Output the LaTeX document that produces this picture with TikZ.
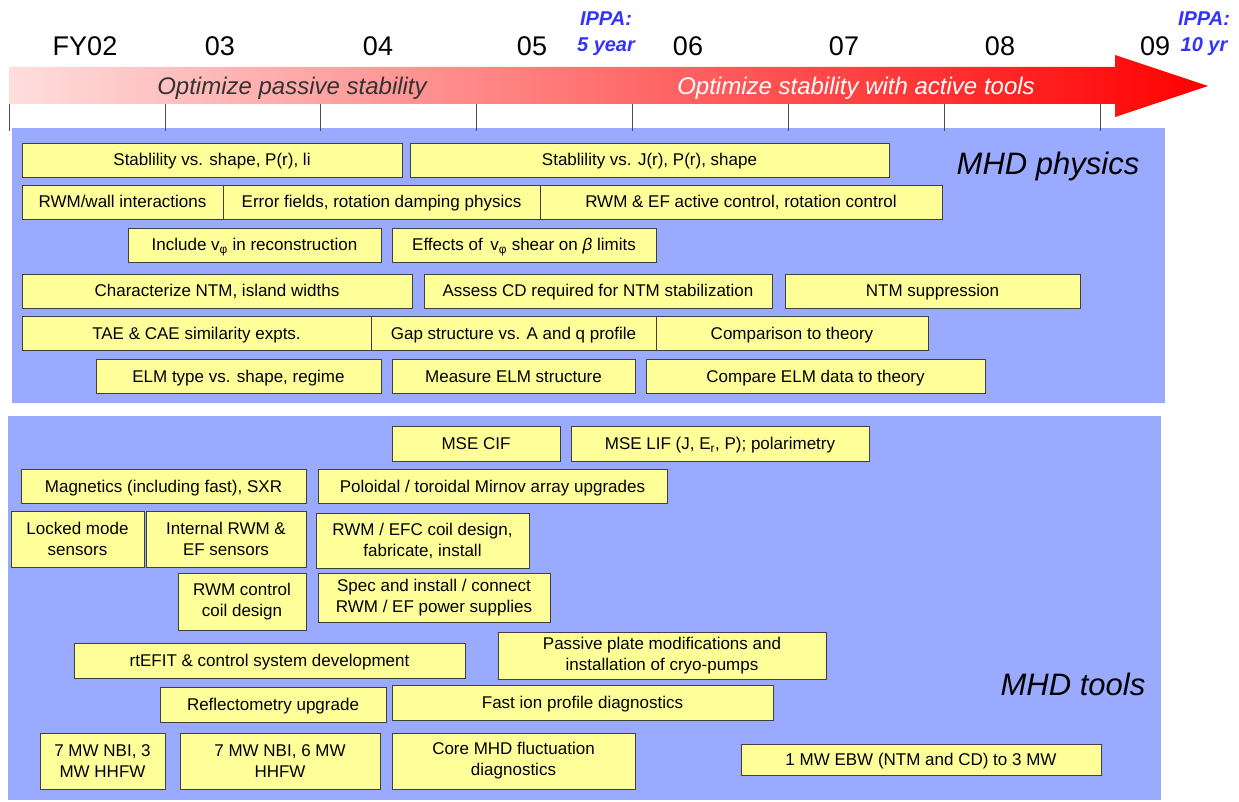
\documentclass[tikz,border=0pt]{standalone}
\usepackage{fontspec}
\setmainfont{Liberation Sans}
\usepackage{tikz}

\definecolor{panelblue}{RGB}{153,170,255}
\definecolor{taskyellow}{RGB}{255,255,153}
\definecolor{ippablue}{RGB}{51,51,255}

\begin{document}
\begin{tikzpicture}[x=1pt,y=-1pt,
    task/.style={draw=black!75,fill=taskyellow,line width=0.9pt,inner sep=0pt,align=center,font=\fontsize{17}{21}\selectfont},
    oneline/.style={task,text height=13pt,text depth=1pt},
    year/.style={font=\fontsize{27}{30}\selectfont},
    ippa/.style={text=ippablue,align=center,font=\fontsize{20}{26}\selectfont\bfseries\itshape},
    phase/.style={font=\fontsize{24}{28}\selectfont\itshape},
    area/.style={font=\fontsize{31}{36}\selectfont\itshape}]

    \useasboundingbox (0,0) rectangle (1239,802);

    \fill[panelblue] (12,128) rectangle (1165,403);
    \fill[panelblue] (8,416) rectangle (1161,800);

    \shade[left color=red!13, middle color=red!45, right color=red]
        (9,67) -- (1115,67) -- (1115,55) -- (1208,86) -- (1115,117) -- (1115,104) -- (9,104) -- cycle;

    \foreach \i in {0,...,7}
        \draw[black!70,line width=0.8pt] ({9+155.9*\i},104) -- ({9+155.9*\i},131);

    \node[year]  (fy02) at (85,46)   {FY02};
    \node[year]  (fy03) at (220,46)  {03};
    \node[year]  (fy04) at (378,46)  {04};
    \node[year]  (fy05) at (532,46)  {05};
    \node[year]  (fy06) at (688,46)  {06};
    \node[year]  (fy07) at (844,46)  {07};
    \node[year]  (fy08) at (1000,46) {08};
    \node[year]  (fy09) at (1155,46) {09};
    \node[ippa]  (ippa5)  at (606,34)  {IPPA:\\5 year};
    \node[ippa]  (ippa10) at (1204,34) {IPPA:\\10 yr};

    \node[phase,text=black!80] (passive) at (292,88) {Optimize passive stability};
    \node[phase,text=white]    (active)  at (856,88) {Optimize stability with active tools};

    \node[area] (physics) at (1048,166) {MHD physics};
    \node[area] (tools)   at (1073,684) {MHD tools};

    \node[oneline,minimum width=380pt,minimum height=34pt] (stabshape) at (212,160)   {Stablility vs. shape, P(r), li};
    \node[oneline,minimum width=479pt,minimum height=34pt] (stabj)     at (649.5,160) {Stablility vs. J(r), P(r), shape};
    \node[oneline,minimum width=201pt,minimum height=34pt] (rwmwall)   at (122.5,202) {RWM/wall interactions};
    \node[oneline,minimum width=317pt,minimum height=34pt] (errfield)  at (381.5,202) {Error fields, rotation damping physics};
    \node[oneline,minimum width=402pt,minimum height=34pt] (rwmef)     at (741,202)   {RWM \& EF active control, rotation control};
    \node[oneline,minimum width=253pt,minimum height=34pt] (vphi)      at (254.5,245) {Include v\textsubscript{φ} in reconstruction};
    \node[oneline,minimum width=264pt,minimum height=34pt] (vshear)    at (524,245)   {Effects of\, v\textsubscript{φ} shear on \textit{β} limits};
    \node[oneline,minimum width=390pt,minimum height=34pt] (ntmchar)   at (217,291)   {Characterize NTM, island widths};
    \node[oneline,minimum width=348pt,minimum height=34pt] (ntmcd)     at (598,291)   {Assess CD required for NTM stabilization};
    \node[oneline,minimum width=295pt,minimum height=34pt] (ntmsupp)   at (932.5,291) {NTM suppression};
    \node[oneline,minimum width=349pt,minimum height=34pt] (tae)       at (196.5,333) {TAE \& CAE similarity expts.};
    \node[oneline,minimum width=285pt,minimum height=34pt] (gap)       at (513.5,333) {Gap structure vs. A and q profile};
    \node[oneline,minimum width=272pt,minimum height=34pt] (theory)    at (792,333)   {Comparison to theory};
    \node[oneline,minimum width=285pt,minimum height=34pt] (elmtype)   at (238.5,376) {ELM type vs. shape, regime};
    \node[oneline,minimum width=243pt,minimum height=34pt] (elmstruct) at (513.5,376) {Measure ELM structure};
    \node[oneline,minimum width=339pt,minimum height=34pt] (elmtheory) at (815.5,376) {Compare ELM data to theory};

    \node[oneline,minimum width=168pt,minimum height=35pt] (msecif)    at (476,443.5)   {MSE CIF};
    \node[oneline,minimum width=298pt,minimum height=35pt] (mselif)    at (720,443.5)   {MSE LIF (J, E\textsubscript{r}, P); polarimetry};
    \node[oneline,minimum width=285pt,minimum height=34pt] (magnetics) at (163.5,486)   {Magnetics (including fast), SXR};
    \node[oneline,minimum width=349pt,minimum height=34pt] (mirnov)    at (492.5,486)   {Poloidal / toroidal Mirnov array upgrades};
    \node[task,minimum width=133pt,minimum height=56pt] (lockedmode)  at (77.5,539)    {Locked mode\\sensors};
    \node[task,minimum width=160pt,minimum height=56pt] (internalrwm) at (226,539)     {Internal RWM \&\\EF sensors};
    \node[task,minimum width=213pt,minimum height=55pt] (efccoil)     at (422.5,540.5) {RWM / EFC coil design,\\fabricate, install};
    \node[task,minimum width=128pt,minimum height=57pt] (rwmcoil)     at (242,601.5)   {RWM control\\coil design};
    \node[task,minimum width=232pt,minimum height=49pt] (powersupply) at (434,597.5)   {Spec and install / connect\\RWM / EF power supplies};
    \node[oneline,minimum width=391pt,minimum height=35pt] (rtefit)   at (269.5,660.5) {rtEFIT \& control system development};
    \node[task,minimum width=328pt,minimum height=47pt] (passiveplate) at (662,655.5)  {Passive plate modifications and\\installation of cryo-pumps};
    \node[oneline,minimum width=226pt,minimum height=35pt] (reflecto) at (273,704.5)   {Reflectometry upgrade};
    \node[oneline,minimum width=381pt,minimum height=35pt] (fastion)  at (582.5,702.5) {Fast ion profile diagnostics};
    \node[task,minimum width=125pt,minimum height=56pt] (nbithree)    at (102.5,761)   {7 MW NBI, 3\\MW HHFW};
    \node[task,minimum width=200pt,minimum height=56pt] (nbisix)      at (280,761)     {7 MW NBI, 6 MW\\HHFW};
    \node[task,minimum width=243pt,minimum height=56pt] (coremhd)     at (513.5,761)   {Core MHD fluctuation\\diagnostics};
    \node[oneline,minimum width=360pt,minimum height=31pt] (ebw)      at (921,759.5)   {1 MW EBW (NTM and CD) to 3 MW};
\end{tikzpicture}
\end{document}
